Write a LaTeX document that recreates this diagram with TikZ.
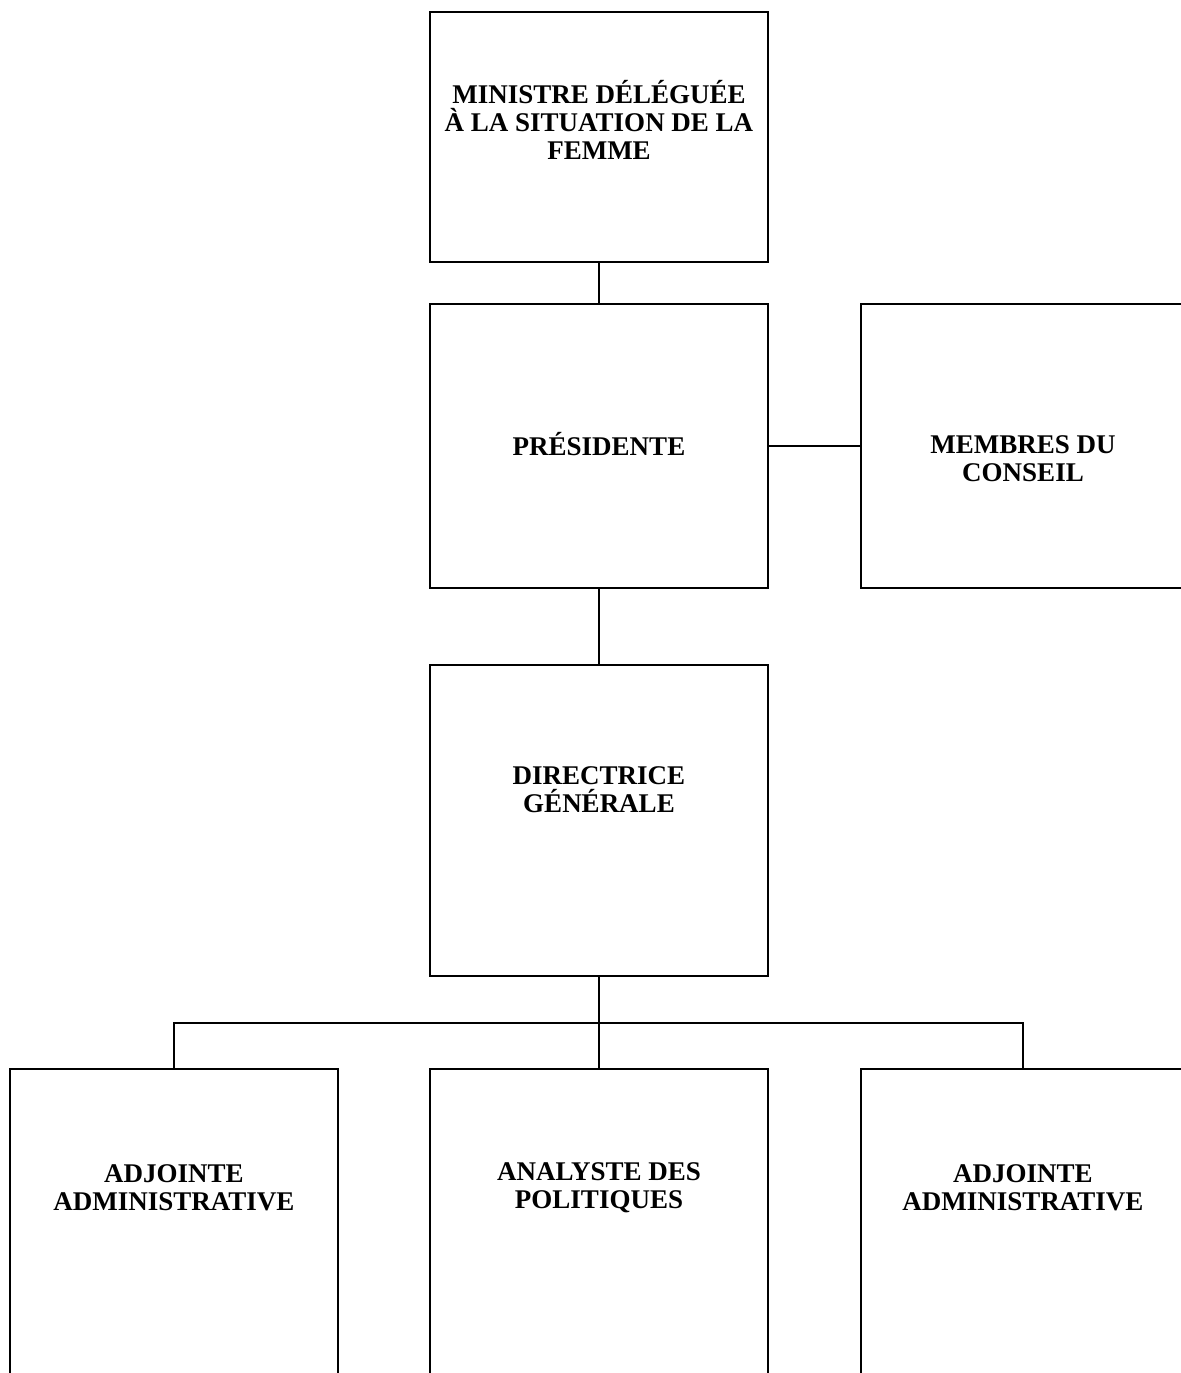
\documentclass[tikz,border=0pt]{standalone}
\usepackage{fontspec}
\setmainfont{Liberation Serif}
\usetikzlibrary{positioning,calc}

\tikzset{
  unit/.style={draw=black,line width=1.3pt,rectangle,inner sep=0pt},
  unitthin/.style={unit,line width=1pt},
  unittext/.style={font=\fontsize{13.5}{14}\selectfont\bfseries,align=center,inner sep=0pt},
  link/.style={draw=black,line width=1.1pt}
}

\begin{document}
\begin{tikzpicture}[x=0.5pt,y=-0.5pt]
  % page is 1181 x 1373 px, 1px = 0.5pt, y grows downward
  \useasboundingbox (0,0) rectangle (1181,1373);
  \clip (0,0) rectangle (1181,1373);

  % boxes
  \node[unit,minimum width=169pt,minimum height=125pt]    (ministre) at (599,137) {};
  \node[unit,minimum width=169pt,minimum height=142pt]    (presidente) at (599,446) {};
  \node[unitthin,minimum width=162pt,minimum height=142pt] (conseil) at (1023,446) {};
  \node[unit,minimum width=169pt,minimum height=155.5pt]  (directrice) at (599,820.5) {};
  \node[unit,minimum width=164pt,minimum height=200pt]    (adjointeA) at (174,1269) {};
  \node[unit,minimum width=169pt,minimum height=200pt]    (analyste) at (599,1269) {};
  \node[unit,minimum width=162pt,minimum height=200pt]    (adjointeB) at (1023,1269) {};

  % texts
  \node[unittext] (ministreT)   at (599,120)  {MINISTRE DÉLÉGUÉE\\À LA SITUATION DE LA\\FEMME};
  \node[unittext] (presidenteT) at (599,444)  {PRÉSIDENTE};
  \node[unittext] (conseilT)    at (1023,459) {MEMBRES DU\\CONSEIL};
  \node[unittext] (directriceT) at (599,790)  {DIRECTRICE\\GÉNÉRALE};
  \node[unittext] (adjointeAT)  at (174,1188) {ADJOINTE\\ADMINISTRATIVE};
  \node[unittext] (analysteT)   at (599,1188) {ANALYSTE DES\\POLITIQUES};
  \node[unittext] (adjointeBT)  at (1023,1188) {ADJOINTE\\ADMINISTRATIVE};

  % connectors
  \coordinate (bus) at (599,1023);
  \draw[link] (ministre) -- (presidente);
  \draw[link] (presidente.east) -- (conseil.west);
  \draw[link] (presidente) -- (directrice);
  \draw[link] (directrice) -- (analyste);
  \draw[link] (adjointeA.north) |- (bus) -| (adjointeB.north);
\end{tikzpicture}
\end{document}
